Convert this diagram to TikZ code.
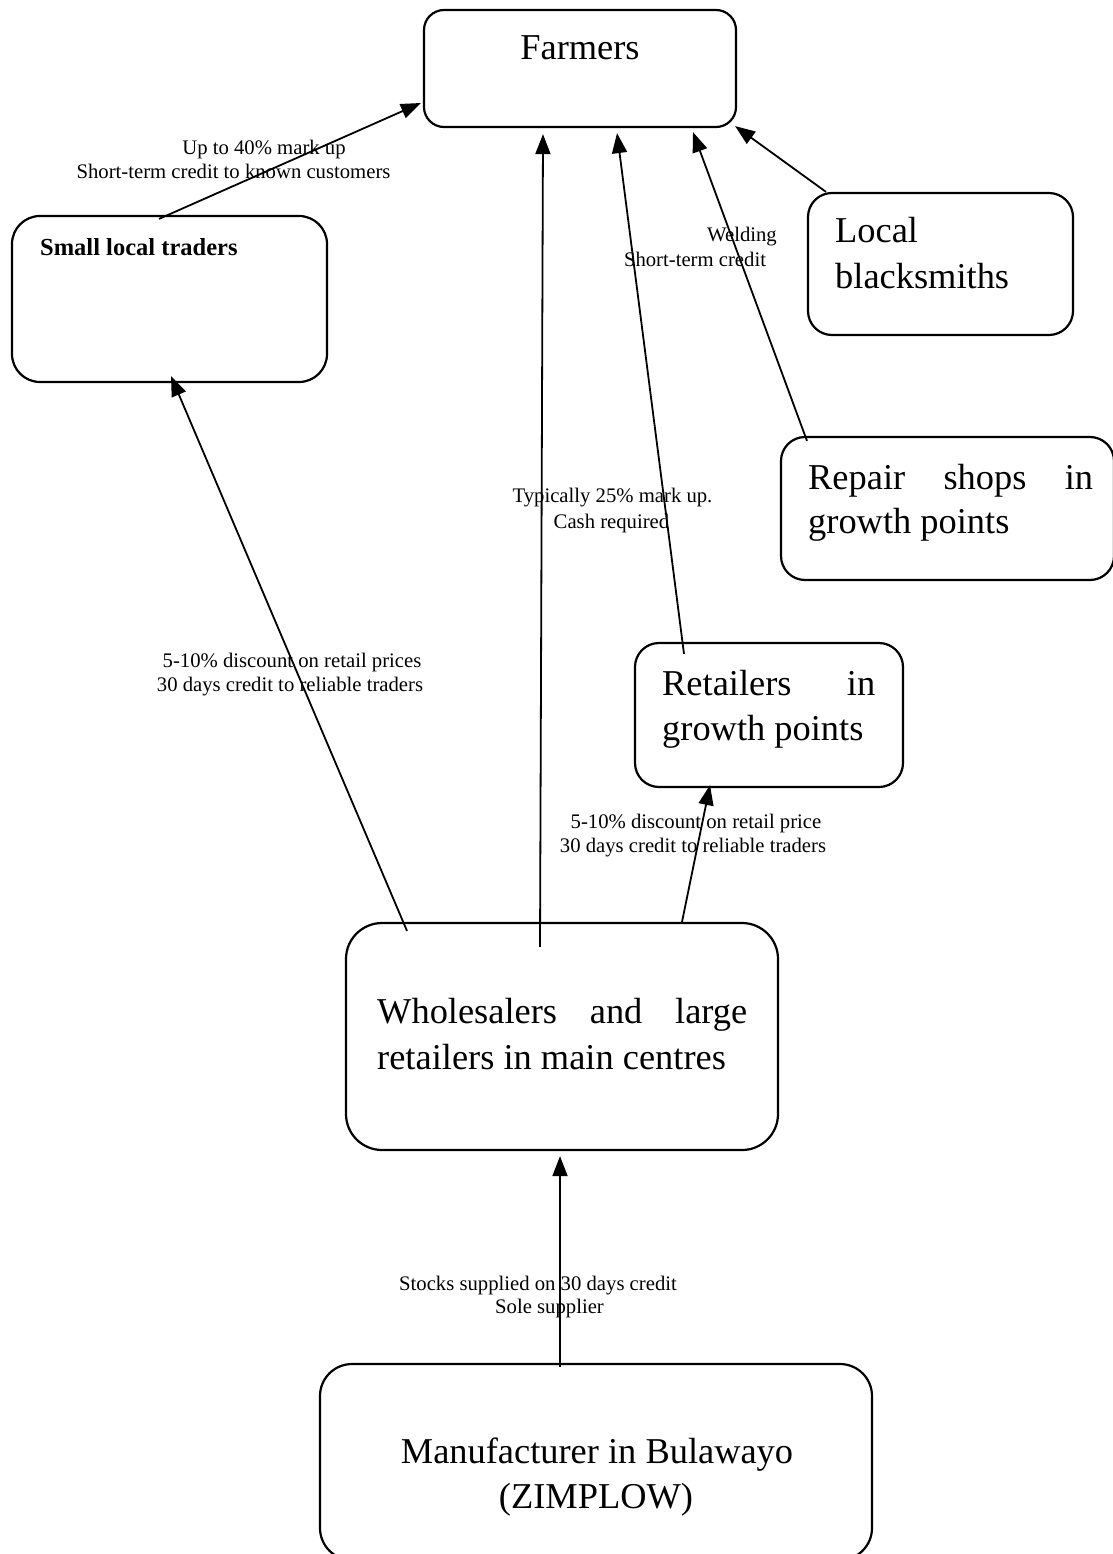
\documentclass[tikz,border=0pt]{standalone}
\usepackage{fontspec}
\setmainfont{Liberation Serif}
\usetikzlibrary{arrows.meta,calc}
\begin{document}
\begin{tikzpicture}[x=1pt,y=-1pt,
  box/.style={draw,line width=2.2pt,inner sep=0pt},
  big/.style={inner sep=0pt,font=\fontsize{36.4}{45}\selectfont},
  lbl/.style={inner sep=0pt,font=\fontsize{20.7}{24}\selectfont},
  arr/.style={line width=1.8pt,-{Triangle[length=20pt,width=15pt]}},
]
\useasboundingbox (0,0) rectangle (1112,1554);

% boxes
\node[box,rounded corners=20pt,minimum width=312pt,minimum height=117pt] (farm) at (580,68.5) {};
\node[box,rounded corners=28pt,minimum width=315pt,minimum height=166pt] (slt) at (169.5,299) {};
\node[box,rounded corners=24pt,minimum width=265pt,minimum height=142pt] (lb) at (940.5,264) {};
\node[box,rounded corners=24pt,minimum width=333pt,minimum height=143pt] (rs) at (947.5,508.5) {};
\node[box,rounded corners=24pt,minimum width=268pt,minimum height=144pt] (ret) at (769,715) {};
\node[box,rounded corners=36pt,minimum width=432pt,minimum height=227pt] (wh) at (562,1036.5) {};
\node[box,rounded corners=32pt,minimum width=552pt,minimum height=196pt] (man) at (596,1462) {};

% box texts
\node[big,anchor=base] (tfarm) at (580,60) {Farmers};
\node[inner sep=0pt,anchor=base west,font=\fontsize{24.5}{28}\selectfont\bfseries] (tslt) at (40,255) {Small local traders};
\node[big,anchor=base west] (tlb1) at (835,243) {Local};
\node[big,anchor=base west] (tlb2) at (835,288) {blacksmiths};
\node[big,anchor=base west] (trs1) at (808,489) {\makebox[285pt][s]{Repair shops in}};
\node[big,anchor=base west] (trs2) at (808,533) {growth points};
\node[big,anchor=base west] (tret1) at (662,695) {\makebox[213pt][s]{Retailers in}};
\node[big,anchor=base west] (tret2) at (662,740) {growth points};
\node[big,anchor=base west] (twh1) at (377,1023) {\makebox[370pt][s]{Wholesalers and large}};
\node[big,anchor=base west] (twh2) at (377,1069) {retailers in main centres};
\node[big,anchor=base] (tman1) at (597,1463) {Manufacturer in Bulawayo};
\node[big,anchor=base] (tman2) at (596,1508) {(ZIMPLOW)};

% connectors
\draw[arr] ($(slt.north)+(-10.5,4)$) -- ($(farm.west)+(-2,34.5)$);
\draw[arr] ($(wh.north)+(-22,25)$) -- ($(farm.south)+(-37,6)$);
\draw[arr] ($(ret.north)+(-85,12)$) -- ($(farm.south)+(37,5)$);
\draw[arr] ($(rs.north)+(-140.5,5)$) -- ($(farm.south)+(113,4)$);
\draw[arr] ($(lb.north)+(-114.5,0)$) -- ($(farm.south east)+(-2,-2)$);
\draw[arr] ($(wh.north)+(-155,9)$) -- ($(slt.south)+(1.5,-7)$);
\draw[arr] ($(wh.north)+(120,0)$) -- ($(ret.south)+(-59,-3)$);
\draw[arr] ($(man.north)+(-36,4)$) -- ($(wh.south)+(-2,5)$);

% connector labels
\node[lbl,anchor=base] (l1a) at (264,155) {Up to 40\% mark up};
\node[lbl,anchor=base] (l1b) at (233.5,179) {Short-term credit to known customers};
\node[lbl,anchor=base] (l2a) at (612.5,502) {Typically 25\% mark up.};
\node[lbl,anchor=base] (l2b) at (611.5,528) {Cash required};
\node[lbl,anchor=base east] (l3a) at (777,242) {Welding};
\node[lbl,anchor=base] (l3b) at (695,266) {Short-term credit};
\node[lbl,anchor=base] (l4a) at (292,667) {5-10\% discount on retail prices};
\node[lbl,anchor=base] (l4b) at (290,691) {30 days credit to reliable traders};
\node[lbl,anchor=base] (l5a) at (696,828) {5-10\% discount on retail price};
\node[lbl,anchor=base] (l5b) at (693,852) {30 days credit to reliable traders};
\node[lbl,anchor=base] (l6a) at (538,1290) {Stocks supplied on 30 days credit};
\node[lbl,anchor=base] (l6b) at (549.5,1313) {Sole supplier};
\end{tikzpicture}
\end{document}
